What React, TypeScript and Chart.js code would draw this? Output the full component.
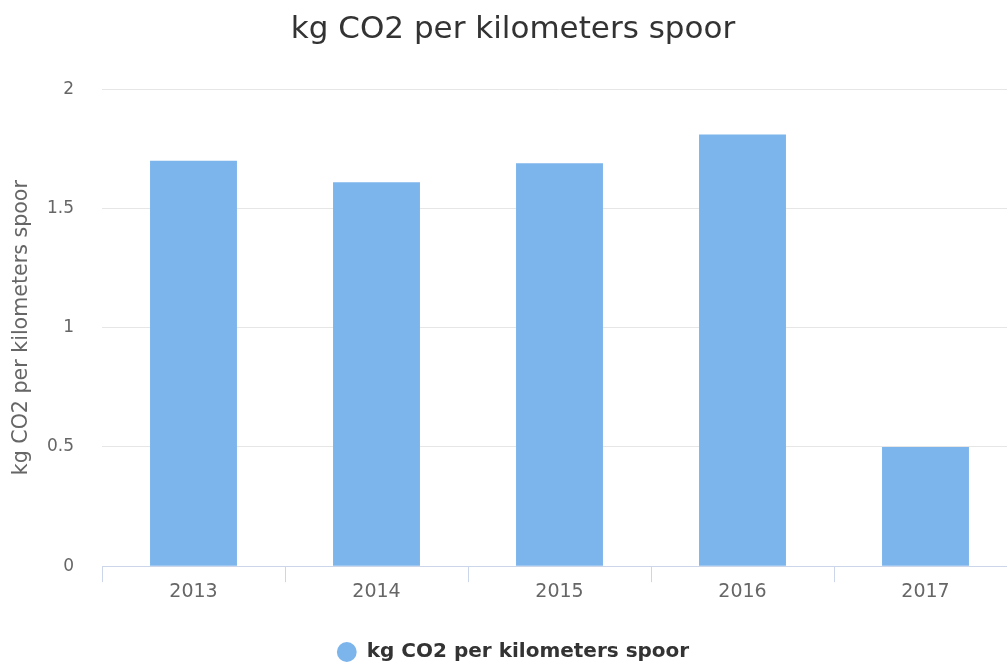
import React, { useEffect, useRef } from "react";
import { Chart, registerables } from "chart.js";

Chart.register(...registerables);

const categories = ["2013", "2014", "2015", "2016", "2017"];
const seriesName = "kg CO2 per kilometers spoor";
const values = [1.7, 1.61, 1.69, 1.81, 0.5];
const yTicks = [0, 0.5, 1, 1.5, 2];

const FONT = "'DejaVu Sans', sans-serif";

export default function App() {
  const ref = useRef<HTMLCanvasElement | null>(null);

  useEffect(() => {
    document.body.style.margin = "0";
    document.body.style.overflow = "hidden";
    const ctx = ref.current!;
    const chart = new Chart(ctx, {
      type: "bar",
      data: {
        labels: categories,
        datasets: [
          {
            label: seriesName,
            data: values,
            backgroundColor: "#7cb5ec",
            borderWidth: 0,
            categoryPercentage: 1,
            barPercentage: 0.475,
          },
        ],
      },
      options: {
        animation: false,
        responsive: false,
        maintainAspectRatio: false,
        layout: { padding: { left: 9, right: 3, top: 11, bottom: 0 } },
        plugins: {
          title: {
            display: true,
            text: seriesName,
            color: "#333333",
            font: { family: FONT, size: 31, weight: "normal" },
            padding: { top: 0, bottom: 41 },
          },
          legend: {
            position: "bottom",
            labels: {
              usePointStyle: true,
              pointStyle: "circle",
              boxWidth: 20,
              boxHeight: 14,
              color: "#333333",
              font: { family: FONT, size: 20, weight: "bold" },
              padding: 2,
            },
          },
          tooltip: { enabled: false },
        },
        scales: {
          x: {
            offset: true,
            afterFit: (axis: any) => {
              axis.height += 39;
            },
            grid: {
              display: true,
              offset: true,
              drawOnChartArea: false,
              drawTicks: true,
              tickLength: 16,
              color: "#ccd6eb",
            },
            border: { display: true, color: "#ccd6eb", width: 1 },
            ticks: {
              color: "#666666",
              font: { family: FONT, size: 19 },
              padding: -2,
            },
          },
          y: {
            min: 0,
            max: 2,
            afterBuildTicks: (axis: any) => {
              axis.ticks = yTicks.map((v) => ({ value: v }));
            },
            afterFit: (axis: any) => {
              axis.width = 93;
            },
            grid: {
              color: "#e6e6e6",
              drawTicks: false,
            },
            border: { display: false },
            ticks: {
              color: "#666666",
              font: { family: FONT, size: 17 },
              padding: 28,
              callback: (v: any) => String(v),
            },
            title: {
              display: true,
              text: seriesName,
              color: "#666666",
              font: { family: FONT, size: 20.6 },
              padding: { top: 0, bottom: 0 },
            },
          },
        },
      },
    });
    return () => chart.destroy();
  }, []);

  return (
    <div style={{ width: 1007, height: 662, overflow: "hidden", background: "#fff" }}>
      <canvas ref={ref} width={1020} height={672} style={{ display: "block" }} />
    </div>
  );
}
